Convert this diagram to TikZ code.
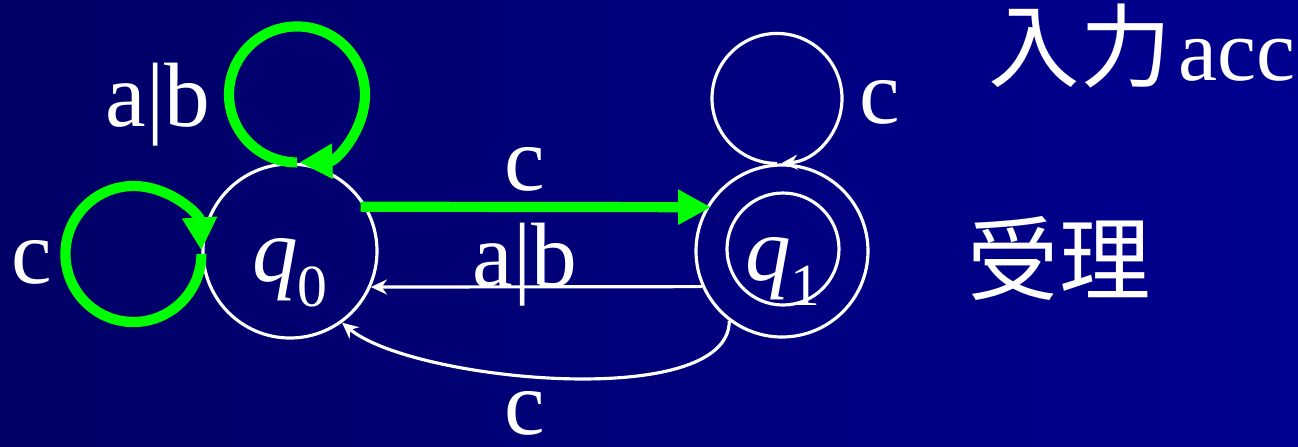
\documentclass[tikz,border=0pt]{standalone}
\usepackage{fontspec}
\setmainfont{Liberation Serif}
\newfontfamily\jpfont{Noto Sans CJK JP}
\usetikzlibrary{arrows.meta, positioning, calc}
\definecolor{autbgleft}{HTML}{000066}
\definecolor{autbgright}{HTML}{000090}
\definecolor{autgreen}{HTML}{00FF00}
\newcommand{\qsub}[1]{\textit{q}\raisebox{-0.25cm}{\fontsize{17}{20}\selectfont #1}}
\tikzset{
  state/.style={circle, draw=white, line width=0.9pt, minimum size=1.74cm, inner sep=0pt},
  inner/.style={circle, draw=white, line width=0.9pt, minimum size=1.12cm, inner sep=0pt},
  qlbl/.style={yshift=-0.22cm, inner sep=0pt, text=white},
  lbl/.style={inner sep=0pt, text=white},
  arrow/.style={draw=white, line width=0.9pt, -{Stealth[length=1.6mm,width=1.5mm]}},
  hot/.style={draw=autgreen, line width=2.9pt, -{Triangle[length=3.3mm,width=3.3mm]}}
}

\begin{document}
\begin{tikzpicture}[font=\fontsize{26}{30}\selectfont]
        \shade[left color=autbgleft, right color=autbgright] (0,0) rectangle (12.98,4.46);
        \useasboundingbox (0,0) rectangle (12.98,4.46);

        \node[state, label={[qlbl]center:\qsub{0}}] (q0) at (2.90, 1.95) {};
        \node[state, minimum size=1.72cm] (q1) at (7.82, 1.95) {};
        \node[inner, label={[qlbl]center:\qsub{1}}] (q1in) at (7.83, 1.97) {};

        \draw[hot] ([xshift=0.07cm]q0.north) arc[start angle=-90, end angle=-448, radius=0.68];
        \draw[hot] ([yshift=-0.03cm]q0.west) arc[start angle=0, end angle=-357, radius=0.68];
        \draw[arrow] ([xshift=-0.05cm]q1.north) arc[start angle=-90, end angle=-446, radius=0.65];

        \draw[hot, shorten <=-0.06cm, shorten >=-0.05cm] (q0.30) -- (q1.150);
        \draw[arrow] (q1.204) -- (q0.336);
        \draw[arrow] (q1.233) to[out=-90, in=-40, looseness=0.6] (q0.306);

        \node[lbl] (lab) at (1.58, 3.41) {a|b};
        \node[lbl] (lc) at (0.32, 1.84) {c};
        \node[lbl] (lcup) at (5.25, 2.77) {c};
        \node[lbl] (lab2) at (5.25, 1.81) {a|b};
        \node[lbl] (lcdn) at (5.25, 0.33) {c};
        \node[lbl] (lc1) at (8.80, 3.44) {c};

        \node[lbl, anchor=base west] (input) at (9.88, 3.66) {{\jpfont 入力}\hspace{0.08em}{\fontsize{25}{30}\selectfont acc}};
        \node[lbl] (accept) at (10.59, 1.88) {\jpfont 受理};
      \end{tikzpicture}
\end{document}
